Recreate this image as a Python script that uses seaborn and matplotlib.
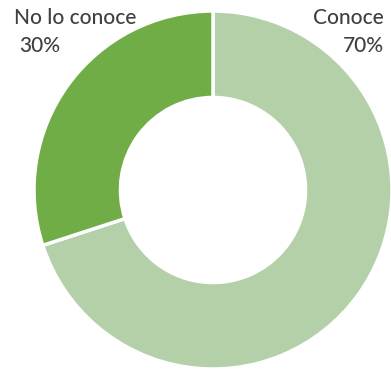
import matplotlib
matplotlib.use("Agg")
import matplotlib.pyplot as plt
import seaborn as sns

categories = ["Conoce", "No lo conoce"]
percentages = [70, 30]
colors = ["#b4d0a8", "#70ad47"]

sns.set_theme(style="white")
plt.rcParams["font.family"] = ["Lato", "DejaVu Sans"]

W, H = 391, 371
fig = plt.figure(figsize=(W / 100, H / 100), dpi=100)
fig.patch.set_facecolor("white")

# donut: radius 1 spans 179 px, centre at (213, 190) from top-left
R = 179
cx, cy = 213, 190
ax = fig.add_axes([(cx - R) / W, (H - cy - R) / H, 2 * R / W, 2 * R / H])
ax.pie(
    percentages,
    colors=colors,
    startangle=90,
    counterclock=False,
    radius=1.0,
    wedgeprops=dict(width=0.483, edgecolor="white", linewidth=2.5),
)
ax.set_xlim(-1, 1)
ax.set_ylim(-1, 1)
ax.set_aspect("equal")
ax.axis("off")

txt = dict(color="#404040", fontsize=15, va="top", fontweight="medium")

def px(x, y):
    return x / W, 1 - y / H

# right-hand label (Conoce), right aligned
fig.text(*px(384, 8), categories[0], ha="right", **txt)
fig.text(*px(384, 36), f"{percentages[0]}%", ha="right", **txt)
# left-hand label (No lo conoce)
fig.text(*px(14, 8), categories[1], ha="left", **txt)
fig.text(*px(19, 36), f"{percentages[1]}%", ha="left", **txt)

fig.savefig("out.png", dpi=100)
